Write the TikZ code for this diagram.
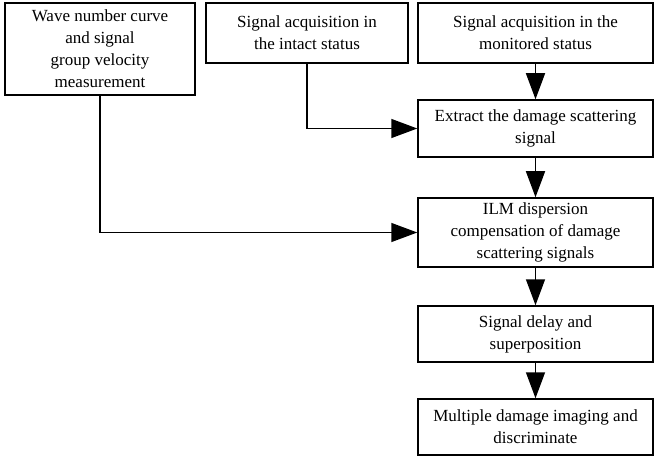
\documentclass[tikz,border=0pt]{standalone}
\usepackage{fontspec}
\setmainfont{Liberation Serif}
\usetikzlibrary{arrows.meta}
\begin{document}
\begin{tikzpicture}[x=1pt,y=-1pt,
  box/.style={draw, line width=1.5pt, inner sep=0pt, align=center, font=\fontsize{17}{22}\selectfont},
  conn/.style={line width=1.5pt, -{Triangle[length=26pt,width=19pt]}}]
\useasboundingbox (0,0) rectangle (655,457);
\node[box, minimum width=190, minimum height=92] (wave) at (100,49) {Wave number curve\\and signal\\group velocity\\measurement};
\node[box, minimum width=202, minimum height=60] (intact) at (307,33) {Signal acquisition in\\the intact status};
\node[box, minimum width=235, minimum height=60] (mon) at (535.5,33) {Signal acquisition in the\\monitored status};
\node[box, minimum width=235, minimum height=57] (extract) at (535.5,128.5) {Extract the damage scattering\\signal};
\node[box, minimum width=235, minimum height=69] (ilm) at (535.5,232.5) {ILM dispersion\\compensation of damage\\scattering signals};
\node[box, minimum width=235, minimum height=56] (delay) at (535.5,334) {Signal delay and\\superposition};
\node[box, minimum width=235, minimum height=56] (multi) at (535.5,427) {Multiple damage imaging and\\discriminate};
\draw[conn] (mon) -- (extract);
\draw[conn] (intact.south) |- (extract.west);
\draw[conn] (wave.south) |- (ilm.west);
\draw[conn] (extract) -- (ilm);
\draw[conn] (ilm) -- (delay);
\draw[conn] (delay) -- (multi);
\end{tikzpicture}
\end{document}
